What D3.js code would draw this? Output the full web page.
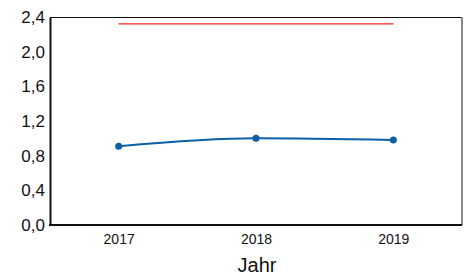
<!DOCTYPE html>
<html>
<head>
<meta charset="utf-8">
<script src="https://cdn.jsdelivr.net/npm/d3@7"></script>
<style>
	body { margin: 0; background: #fff; }
	svg { display: block; font-family: "Liberation Sans", Arial, sans-serif; }
</style>
</head>
<body>
<svg width="464" height="275"></svg>
<script>
var years = ["2017", "2018", "2019"];
var values = [0.91, 1.0, 0.98];
var refValue = [2.32, 2.32, 2.32];
var yTicks = [0, 0.4, 0.8, 1.2, 1.6, 2.0, 2.4];

var svg = d3.select("svg");
var plotL = 50, plotR = 462, plotT = 17, plotB = 225;

var x = d3.scalePoint().domain(years).range([plotL, plotR]).padding(0.5);
var y = d3.scaleLinear().domain([0, 2.4]).range([plotB, plotT]);

// frame
svg.append("line").attr("x1", plotL).attr("x2", plotR).attr("y1", plotT + 0.5).attr("y2", plotT + 0.5)
	.attr("stroke", "#111").attr("stroke-width", 1);
svg.append("line").attr("x1", plotR).attr("x2", plotR).attr("y1", plotT).attr("y2", plotB)
	.attr("stroke", "#888").attr("stroke-width", 2);

var fmt = function(d) { return d.toFixed(1).replace(".", ","); };

var yAxis = svg.append("g")
	.attr("transform", "translate(" + plotL + ",0)")
	.call(d3.axisLeft(y).tickValues(yTicks).tickFormat(fmt).tickSize(0).tickPadding(5));
yAxis.select(".domain").attr("stroke", "#111").attr("stroke-width", 2);
yAxis.selectAll("text").attr("font-size", 17).attr("fill", "#111")
	.attr("font-family", "Liberation Sans, Arial, sans-serif");

var xAxis = svg.append("g")
	.attr("transform", "translate(0," + plotB + ")")
	.call(d3.axisBottom(x).tickSize(0).tickPadding(9));
xAxis.select(".domain").attr("stroke", "#111").attr("stroke-width", 2)
	.attr("d", "M" + (plotL - 1) + ",0H" + plotR);
xAxis.selectAll("text").attr("font-size", 14).attr("fill", "#111")
	.attr("font-family", "Liberation Sans, Arial, sans-serif");

svg.append("text")
	.attr("x", 257)
	.attr("y", 272)
	.attr("text-anchor", "middle")
	.attr("font-size", 20)
	.attr("fill", "#111")
	.text("Jahr");

// reference line
svg.append("path")
	.datum(refValue)
	.attr("fill", "none")
	.attr("stroke", "#ff2020")
	.attr("stroke-width", 1.2)
	.attr("d", d3.line()
		.x(function(d, i) { return x(years[i]); })
		.y(function(d) { return y(d); }));

// series
svg.append("path")
	.datum(values)
	.attr("fill", "none")
	.attr("stroke", "#0a5fa5")
	.attr("stroke-width", 2)
	.attr("d", d3.line()
		.curve(d3.curveMonotoneX)
		.x(function(d, i) { return x(years[i]); })
		.y(function(d) { return y(d); }));

svg.selectAll("circle.pt")
	.data(values)
	.enter().append("circle")
	.attr("class", "pt")
	.attr("cx", function(d, i) { return x(years[i]); })
	.attr("cy", function(d) { return y(d); })
	.attr("r", 3.5)
	.attr("fill", "#0a5fa5");
</script>
</body>
</html>
